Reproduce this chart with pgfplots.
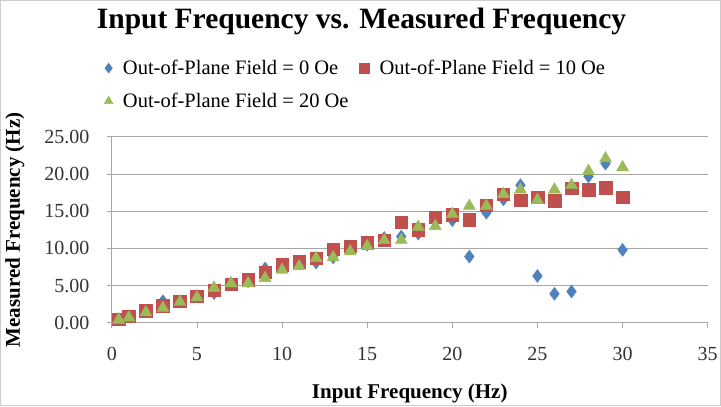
\documentclass[border=0pt]{standalone}
\usepackage{fontspec}
\setmainfont{Liberation Serif}
\usepackage{pgfplots}
\pgfplotsset{compat=1.18}
\definecolor{xlblue}{HTML}{4F81BD}
\definecolor{xlred}{HTML}{C0504D}
\definecolor{xlgreen}{HTML}{9BBB59}
\definecolor{gridgray}{HTML}{A6A6A6}
\begin{document}
\begin{tikzpicture}
\begin{axis}[
  at={(0,0)}, anchor=origin,
  scale only axis, width=596pt, height=186pt,
  xmin=0, xmax=35, ymin=0, ymax=25,
  xtick={0,5,...,35}, ytick={0,5,...,25},
  ymajorgrids, grid style={gridgray, line width=0.8pt},
  axis x line*=bottom, axis y line*=left,
  axis line style={gridgray, line width=0.8pt},
  tick style={gridgray, line width=0.8pt},
  tick align=outside, major tick length=5pt,
  x tick style={draw=gridgray}, y tick style={draw=gridgray},
  /pgf/number format/assume math mode=true,
  yticklabel={\pgfmathprintnumber[fixed, fixed zerofill, precision=2]{\tick}},
  xticklabel={\pgfmathprintnumber[fixed]{\tick}},
  ticklabel style={font=\fontsize{20}{22}\selectfont, text=black!80},
  xticklabel style={yshift=-16pt},
  yticklabel style={xshift=-14pt},
  xlabel={\textbf{Input Frequency (Hz)}},
  ylabel={\textbf{Measured Frequency (Hz)}},
  label style={font=\fontsize{21}{24}\selectfont},
  xlabel style={at={(axis description cs:0.5,-0.38)}, anchor=center},
  ylabel style={at={(axis description cs:-0.163,0.5)}, anchor=center},
  title={\textbf{Input Frequency vs. Measured Frequency}},
  title style={font=\fontsize{29.5}{32}\selectfont, at={(axis description cs:0.419,1.59)}, anchor=center},
  legend style={at={(axis description cs:-0.018,1.435)}, anchor=north west, draw=none, fill=none,
    font=\fontsize{20.5}{22}\selectfont, row sep=13pt, column sep=8pt,
    /tikz/every even column/.append style={column sep=9pt}},
  legend cell align=left,
  legend columns=2,
  legend image code/.code={\draw[#1,mark size=5pt] plot coordinates {(0.16cm,0cm)};},
]
\addplot[only marks, mark=diamond*, mark size=6.5pt, color=xlblue] coordinates {
(0.4,0.5) (1,0.9) (2,1.6) (3,2.9) (4,2.9) (5,3.6) (6,4.0) (7,5.3) (8,5.6) (9,7.3)
(10,7.5) (11,8.0) (12,8.1) (13,8.8) (14,10.0) (15,10.5) (16,11.4) (17,11.6) (18,12.0) (19,13.6)
(20,13.8) (21,8.9) (22,14.8) (23,16.6) (24,18.5) (25,6.3) (26,3.9) (27,4.2) (28,19.7) (29,21.4) (30,9.8)
};
\addlegendentry{Out-of-Plane Field = 0 Oe}
\addplot[only marks, mark=square*, mark size=6.3pt, color=xlred] coordinates {
(0.4,0.5) (1,0.9) (2,1.6) (3,2.3) (4,2.9) (5,3.6) (6,4.4) (7,5.2) (8,5.8) (9,6.8)
(10,7.8) (11,8.2) (12,8.7) (13,9.9) (14,10.3) (15,10.8) (16,11.1) (17,13.5) (18,12.5) (19,14.2)
(20,14.5) (21,13.9) (22,15.8) (23,17.3) (24,16.5) (25,16.9) (26,16.4) (27,18.1) (28,17.9) (29,18.2) (30,16.9)
};
\addlegendentry{Out-of-Plane Field = 10 Oe}
\addplot[only marks, mark=triangle*, mark size=7pt, color=xlgreen] coordinates {
(0.4,0.4) (1,0.7) (2,1.4) (3,2.0) (4,2.8) (5,3.4) (6,4.7) (7,5.3) (8,5.3) (9,6.0)
(10,7.1) (11,7.6) (12,8.7) (13,8.8) (14,9.6) (15,10.3) (16,11.1) (17,11.1) (18,12.9) (19,13.0)
(20,14.6) (21,15.7) (22,15.7) (23,17.3) (24,17.9) (25,16.5) (26,17.9) (27,18.5) (28,20.4) (29,22.1) (30,20.9)
};
\addlegendentry{Out-of-Plane Field = 20 Oe}
\end{axis}
\draw[gray!40, line width=0.8pt] (-111.5pt,-82.5pt) rectangle (608.5pt,322.5pt);
\end{tikzpicture}
\end{document}
